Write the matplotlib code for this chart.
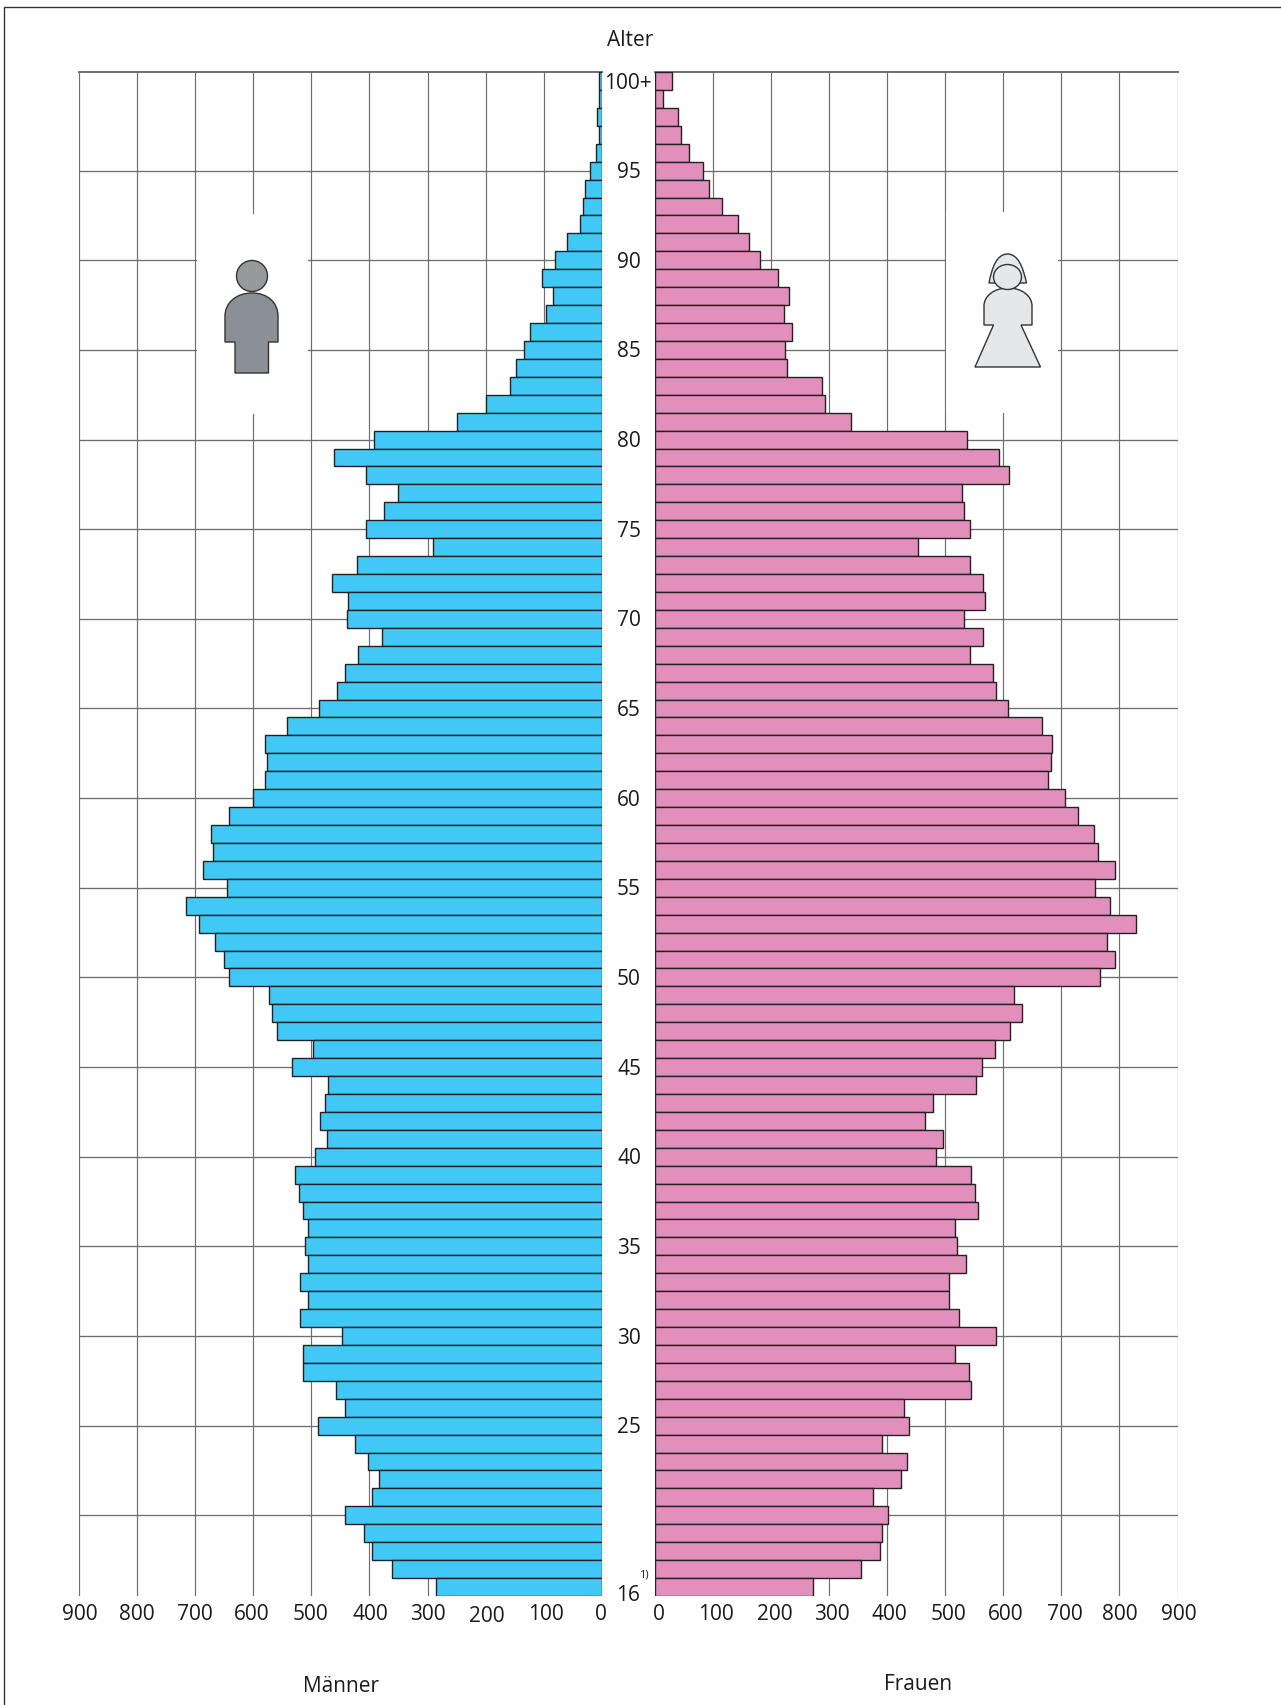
import numpy as np
import matplotlib
matplotlib.use('Agg')
import matplotlib.pyplot as plt
from matplotlib.patches import Rectangle, Ellipse, PathPatch
from matplotlib.path import Path

plt.rcParams['font.family'] = ['Open Sans', 'DejaVu Sans']

# Alter 100+ bis 16
alter = list(range(100, 15, -1))

maenner = [6, 5, 8, 6, 11, 20, 29, 33, 38, 61, 80, 104, 85, 96, 124, 134, 148, 158, 200, 249,
           392, 460, 405, 351, 375, 405, 290, 422, 465, 437, 439, 379, 420, 441, 456, 486,
           542, 579, 576, 579, 600, 641, 673, 669, 686, 645, 716, 693, 665, 650, 641,
           572, 568, 559, 497, 533, 471, 477, 484, 473, 493, 527, 521, 514, 505, 510,
           505, 520, 505, 520, 447, 514, 514, 458, 441, 488, 424, 402, 383, 396, 441,
           409, 396, 361, 286]

frauen = [30, 15, 41, 45, 59, 84, 94, 117, 143, 163, 182, 213, 231, 223, 237, 224, 228, 289, 294, 339,
          537, 592, 610, 530, 532, 543, 453, 543, 566, 569, 532, 566, 543, 582, 588, 609,
          667, 684, 682, 678, 706, 728, 757, 764, 792, 758, 783, 828, 779, 792, 766,
          618, 633, 612, 586, 564, 554, 479, 466, 496, 485, 545, 551, 556, 517, 521,
          536, 506, 507, 524, 588, 517, 541, 545, 429, 438, 391, 434, 425, 376, 401,
          391, 388, 356, 273]

alter_ticks = list(range(95, 15, -5))
x_ticks = list(range(0, 1000, 100))

W, H = 1281, 1706
TOP, BOTTOM = 73, 1597
L0, L900 = 602, 78.5
R0, R900 = 654.5, 1177.5
LINE = '#6e6e6e'

fig = plt.figure(figsize=(W / 100, H / 100), dpi=100)


def make_ax(x0, x1):
    ax = fig.add_axes([x0 / W, 1 - BOTTOM / H, (x1 - x0) / W, (BOTTOM - TOP) / H])
    ax.set_ylim(15.5, 100.5)
    for s in ax.spines.values():
        s.set_visible(False)
    ax.set_xticks([])
    ax.set_yticks([])
    return ax


ax_m = make_ax(L900, L0)
ax_m.set_xlim(900, 0)
ax_f = make_ax(R0, R900)
ax_f.set_xlim(0, 900)

for ax in (ax_m, ax_f):
    for v in x_ticks:
        if v > 0:
            ax.axvline(v, color=LINE, lw=0.85, zorder=1)
    for a in alter_ticks:
        ax.axhline(a, color=LINE, lw=0.95, zorder=1)
    ax.axhline(100.5, color=LINE, lw=1.4, zorder=1, clip_on=False)

ax_m.barh(alter, maenner, height=1, color='#41c8f7', edgecolor='#222222', linewidth=1.0, zorder=3)
ax_f.barh(alter, frauen, height=1, color='#e28fbc', edgecolor='#222222', linewidth=1.0, zorder=3)

# Ebene in Pixeln fuer Rahmen, Texte und Figuren
top = fig.add_axes([0, 0, 1, 1], zorder=5)
top.set_xlim(0, W)
top.set_ylim(H, 0)
top.axis('off')
top.patch.set_alpha(0)

top.plot([4, 4, W], [H, 8, 8], color='#333333', lw=1.0, solid_joinstyle='miter')

# Aussparungen im Gitter
top.add_patch(Rectangle((197, 215), 111, 200, fc='white', ec='none'))
top.add_patch(Rectangle((946, 213), 112, 201, fc='white', ec='none'))

# Mann
top.add_patch(Ellipse((252, 277), 31, 31, fc='#98999b', ec='#333333', lw=1.0))
mann = Path([(225, 343), (225, 317), (225, 304), (236, 294), (252, 294), (268, 294), (278, 304), (278, 317),
             (278, 343), (268.5, 343), (268.5, 374), (235, 374), (235, 343), (225, 343)],
            [Path.MOVETO, Path.LINETO, Path.CURVE4, Path.CURVE4, Path.CURVE4, Path.CURVE4, Path.CURVE4, Path.CURVE4,
             Path.LINETO, Path.LINETO, Path.LINETO, Path.LINETO, Path.LINETO, Path.CLOSEPOLY])
top.add_patch(PathPatch(mann, fc='#8a9096', ec='#333333', lw=1.0))

# Frau
haar = Path([(989, 284), (992, 268), (997, 255), (1007.5, 255), (1018, 255), (1023, 268), (1026.5, 284), (989, 284)],
            [Path.MOVETO, Path.CURVE4, Path.CURVE4, Path.CURVE4, Path.CURVE4, Path.CURVE4, Path.CURVE4, Path.CLOSEPOLY])
top.add_patch(PathPatch(haar, fc='#e6e7e8', ec='#333333', lw=1.0))
frau = Path([(984, 326), (984, 307), (984, 297), (994, 289), (1008, 289), (1022, 289), (1032, 297), (1032, 307),
             (1032, 326), (1021, 326), (1040.5, 368), (975, 368), (993.5, 326), (984, 326)],
            [Path.MOVETO, Path.LINETO, Path.CURVE4, Path.CURVE4, Path.CURVE4, Path.CURVE4, Path.CURVE4, Path.CURVE4,
             Path.LINETO, Path.LINETO, Path.LINETO, Path.LINETO, Path.LINETO, Path.CLOSEPOLY])
top.add_patch(PathPatch(frau, fc='#e6e7e8', ec='#333333', lw=1.0))
top.add_patch(Ellipse((1007.5, 278), 28, 25, fc='#e6e7e8', ec='#333333', lw=1.0))

# Texte
FS = 15
TXT = '#1a1a1a'
def txt(x, y, s, size=FS, ha='center'):
    top.text(x, y, s, fontsize=size, color=TXT, ha=ha, va='center')


txt(630, 40, 'Alter')
txt(341, 1687, 'Männer')
txt(918, 1685, 'Frauen')
txt(644, 1575, '1)', size=8)
txt(604, 83, '100+', ha='left')
txt(628, 1596, '16')
for a in alter_ticks[:-1]:
    y = TOP + (100.5 - a) * (BOTTOM - TOP) / 85
    txt(629, y + 1, str(a))

for v, x in zip(x_ticks, [601, 546, 487, 428, 370, 311, 252, 195, 137, 80]):
    txt(x, 1617 if v == 200 else 1615, str(v))
for v, x in zip(x_ticks, [658.5, 716, 774.5, 832, 889, 948, 1006, 1064.5, 1120, 1179]):
    txt(x, 1615, str(v))

fig.savefig('out.png', dpi=100)
